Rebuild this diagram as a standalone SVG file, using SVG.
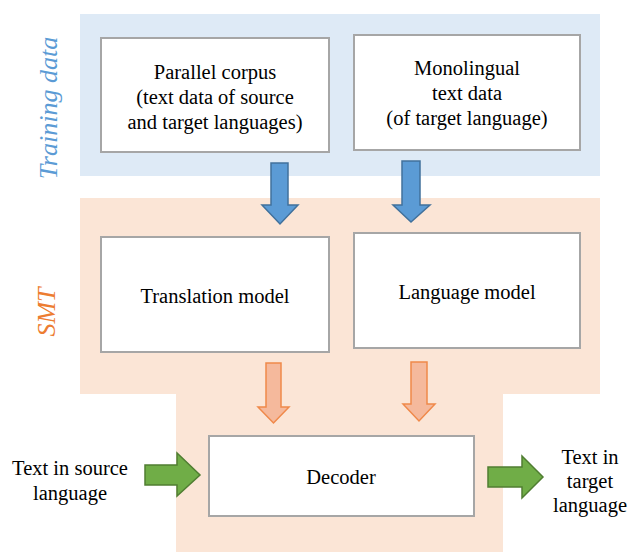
<svg xmlns="http://www.w3.org/2000/svg" width="631" height="552" viewBox="0 0 631 552">
  <style>
    .band-blue { fill: #deeaf6; }
    .band-orange { fill: #fbe5d6; }
    .box { fill: #ffffff; stroke: #a6a6a6; stroke-width: 2; }
    .txt { font-family: "Liberation Serif", "Times New Roman", serif; font-size: 20.5px; fill: #000000; text-anchor: middle; }
    .side { font-family: "Liberation Serif", "Times New Roman", serif; font-size: 26px; font-style: italic; text-anchor: middle; }
    .blue-arrow { fill: #5b9bd5; stroke: #41719c; stroke-width: 1.5; }
    .orange-arrow { fill: #f5b99c; stroke: #f0894a; stroke-width: 1.5; }
    .green-arrow { fill: #70ad47; stroke: #507e32; stroke-width: 1.5; }
  </style>

  <!-- background bands -->
  <g id="training-band">
    <rect class="band-blue" x="80" y="14" width="520" height="162"/>
    <text class="side" fill="#5b9bd5" transform="translate(57,108) rotate(-90)">Training data</text>
  </g>
  <g id="smt-band">
    <path class="band-orange" d="M80,198 H600 V394 H503 V552 H176 V394 H80 Z"/>
    <text class="side" fill="#ed7d31" transform="translate(55,312) rotate(-90)">SMT</text>
  </g>

  <!-- nodes -->
  <g id="parallel-corpus">
    <rect class="box" x="101" y="38" width="228" height="114"/>
    <text class="txt" x="215" y="79">Parallel corpus</text>
    <text class="txt" x="215" y="104">(text data of source</text>
    <text class="txt" x="215" y="129">and target languages)</text>
  </g>
  <g id="monolingual">
    <rect class="box" x="354" y="35" width="226" height="115"/>
    <text class="txt" x="467" y="75">Monolingual</text>
    <text class="txt" x="467" y="100">text data</text>
    <text class="txt" x="467" y="125">(of target language)</text>
  </g>
  <g id="translation-model">
    <rect class="box" x="101" y="237" width="228" height="115"/>
    <text class="txt" x="215" y="303">Translation model</text>
  </g>
  <g id="language-model">
    <rect class="box" x="354" y="233" width="226" height="115"/>
    <text class="txt" x="467" y="299">Language model</text>
  </g>
  <g id="decoder">
    <rect class="box" x="209" y="436" width="265" height="80"/>
    <text class="txt" x="341" y="484">Decoder</text>
  </g>
  <g id="source-text">
    <text class="txt" x="70" y="475">Text in source</text>
    <text class="txt" x="70" y="500">language</text>
  </g>
  <g id="target-text">
    <text class="txt" x="590" y="464">Text in</text>
    <text class="txt" x="590" y="488">target</text>
    <text class="txt" x="590" y="512">language</text>
  </g>

  <!-- connectors (block arrows) -->
  <g id="connectors">
    <path class="blue-arrow" d="M271,163 H288 V205 H298 L280,224 L262,205 H271 Z"/>
    <path class="blue-arrow" d="M402,161 H420 V205 H430 L411,222 L393,205 H402 Z"/>
    <path class="orange-arrow" d="M266,363 H281 V407 H289 L273.5,423 L258,407 H266 Z"/>
    <path class="orange-arrow" d="M411,362 H427 V404 H435 L419,421 L403,404 H411 Z"/>
    <path class="green-arrow" d="M145,465 H177 V453 L200,475 L177,496 V485 H145 Z"/>
    <path class="green-arrow" d="M488,467 H522 V456 L543,477 L522,498 V487 H488 Z"/>
  </g>
</svg>
